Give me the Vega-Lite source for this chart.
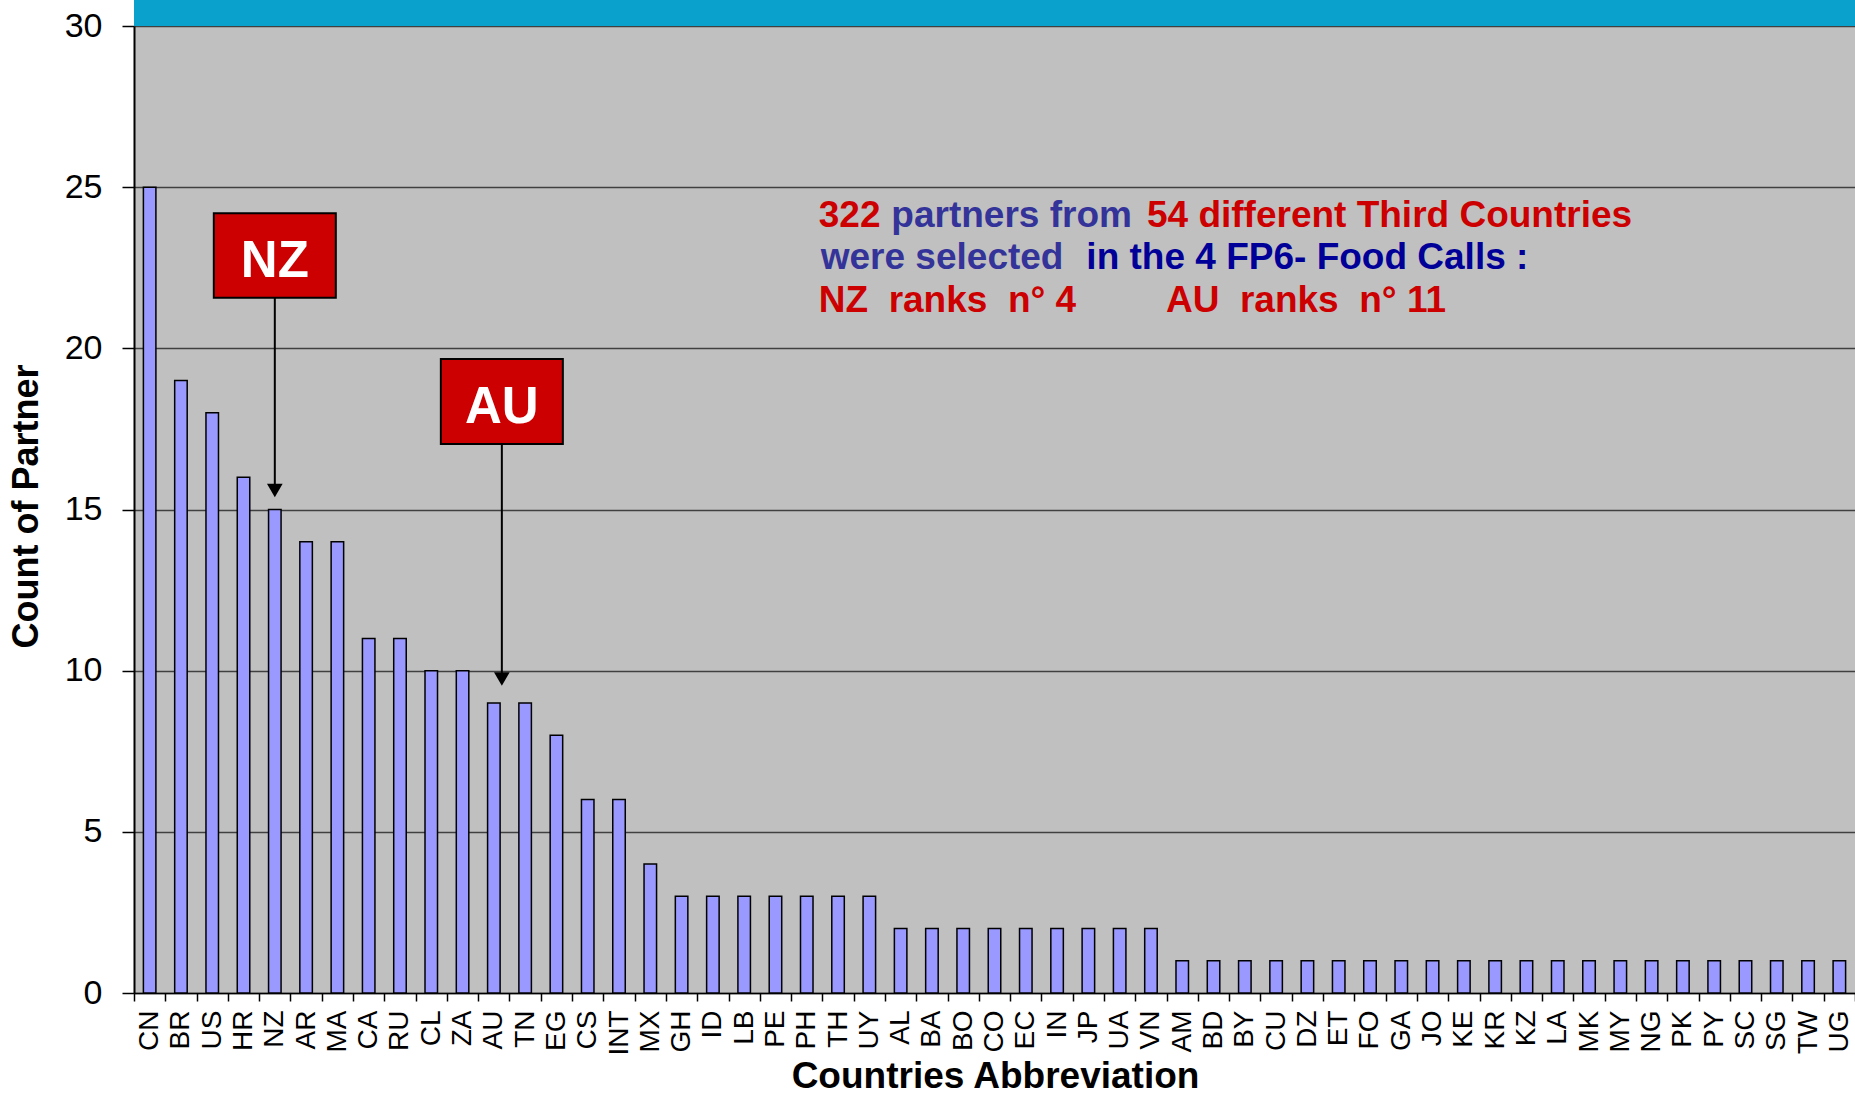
{
  "$schema": "https://vega.github.io/schema/vega-lite/v6.json",
  "autosize": {"type": "none"},
  "padding": {"left": 134, "top": 26, "right": 0, "bottom": 112},
  "width": 1721,
  "height": 967,
  "background": "#ffffff",
  "config": {
    "view": {"fill": "#c0c0c0", "stroke": null},
    "font": "Liberation Sans"
  },
  "layer": [
    {
      "data": {"values": [{"v": 30, "v2": 30.81}]},
      "mark": {"type": "rect", "color": "#0ba1cd"},
      "encoding": {
        "y": {"field": "v", "type": "quantitative"},
        "y2": {"field": "v2"}
      }
    },
    {
      "data": {"values": [
        {"country": "CN", "n": 25}, {"country": "BR", "n": 19}, {"country": "US", "n": 18}, {"country": "HR", "n": 16},
        {"country": "NZ", "n": 15}, {"country": "AR", "n": 14}, {"country": "MA", "n": 14}, {"country": "CA", "n": 11},
        {"country": "RU", "n": 11}, {"country": "CL", "n": 10}, {"country": "ZA", "n": 10}, {"country": "AU", "n": 9},
        {"country": "TN", "n": 9}, {"country": "EG", "n": 8}, {"country": "CS", "n": 6}, {"country": "INT", "n": 6},
        {"country": "MX", "n": 4}, {"country": "GH", "n": 3}, {"country": "ID", "n": 3}, {"country": "LB", "n": 3},
        {"country": "PE", "n": 3}, {"country": "PH", "n": 3}, {"country": "TH", "n": 3}, {"country": "UY", "n": 3},
        {"country": "AL", "n": 2}, {"country": "BA", "n": 2}, {"country": "BO", "n": 2}, {"country": "CO", "n": 2},
        {"country": "EC", "n": 2}, {"country": "IN", "n": 2}, {"country": "JP", "n": 2}, {"country": "UA", "n": 2},
        {"country": "VN", "n": 2}, {"country": "AM", "n": 1}, {"country": "BD", "n": 1}, {"country": "BY", "n": 1},
        {"country": "CU", "n": 1}, {"country": "DZ", "n": 1}, {"country": "ET", "n": 1}, {"country": "FO", "n": 1},
        {"country": "GA", "n": 1}, {"country": "JO", "n": 1}, {"country": "KE", "n": 1}, {"country": "KR", "n": 1},
        {"country": "KZ", "n": 1}, {"country": "LA", "n": 1}, {"country": "MK", "n": 1}, {"country": "MY", "n": 1},
        {"country": "NG", "n": 1}, {"country": "PK", "n": 1}, {"country": "PY", "n": 1}, {"country": "SC", "n": 1},
        {"country": "SG", "n": 1}, {"country": "TW", "n": 1}, {"country": "UG", "n": 1}
      ]},
      "mark": {"type": "bar", "fill": "#9999ff", "stroke": "#000000", "strokeWidth": 1.5, "width": {"band": 0.4}},
      "encoding": {
        "x": {
          "field": "country", "type": "nominal", "sort": null,
          "scale": {
            "domain": ["CN","BR","US","HR","NZ","AR","MA","CA","RU","CL","ZA","AU","TN","EG","CS","INT","MX","GH","ID","LB","PE","PH","TH","UY","AL","BA","BO","CO","EC","IN","JP","UA","VN","AM","BD","BY","CU","DZ","ET","FO","GA","JO","KE","KR","KZ","LA","MK","MY","NG","PK","PY","SC","SG","TW","UG"],
            "paddingInner": 0, "paddingOuter": 0
          },
          "axis": {
            "title": "Countries Abbreviation",
            "titleFontSize": 37, "titleFontWeight": "bold", "titleColor": "#000000",
            "titleX": 861, "titleY": 94, "titleBaseline": "alphabetic", "titleAlign": "center", "titleAnchor": null,
            "labelAngle": 270, "labelFontSize": 28, "labelColor": "#000000", "labelPadding": 9,
            "tickBand": "extent", "tickSize": 8, "tickColor": "#000000", "tickWidth": 1.5,
            "domainColor": "#000000", "domainWidth": 1.5, "grid": false, "labelOverlap": false
          }
        },
        "y": {
          "field": "n", "type": "quantitative",
          "scale": {"domain": [0, 30], "nice": false},
          "axis": {
            "title": "Count of Partner",
            "titleFontSize": 36, "titleFontWeight": "bold", "titleColor": "#000000",
            "titleAngle": 270, "titleX": -97, "titleY": 480, "titleBaseline": "alphabetic", "titleAlign": "center",
            "values": [0, 5, 10, 15, 20, 25, 30],
            "labelFontSize": 34, "labelColor": "#000000", "labelPadding": 20,
            "tickSize": 12, "tickColor": "#000000", "tickWidth": 1.5,
            "domainColor": "#000000", "domainWidth": 2,
            "grid": true, "gridColor": "#404040", "gridWidth": 1.5
          }
        }
      }
    },
    {
      "data": {"values": [{"country": "NZ", "v": 24.19, "v2": 21.57}]},
      "mark": {"type": "bar", "fill": "#cc0000", "stroke": "#000000", "strokeWidth": 2, "width": 122},
      "encoding": {
        "x": {"field": "country", "type": "nominal"},
        "y": {"field": "v", "type": "quantitative"},
        "y2": {"field": "v2"}
      }
    },
    {
      "data": {"values": [{"country": "AU", "v": 19.67, "v2": 17.03}]},
      "mark": {"type": "bar", "fill": "#cc0000", "stroke": "#000000", "strokeWidth": 2, "width": 122, "xOffset": 8},
      "encoding": {
        "x": {"field": "country", "type": "nominal"},
        "y": {"field": "v", "type": "quantitative"},
        "y2": {"field": "v2"}
      }
    },
    {
      "data": {"values": [{"country": "NZ", "v": 22.22, "t": "NZ"}]},
      "mark": {"type": "text", "color": "#ffffff", "fontSize": 51, "fontWeight": "bold", "align": "center", "baseline": "alphabetic"},
      "encoding": {
        "x": {"field": "country", "type": "nominal"},
        "y": {"field": "v", "type": "quantitative"},
        "text": {"field": "t"}
      }
    },
    {
      "data": {"values": [{"country": "AU", "v": 17.69, "t": "AU"}]},
      "mark": {"type": "text", "color": "#ffffff", "fontSize": 51, "fontWeight": "bold", "align": "center", "baseline": "alphabetic", "dx": 8},
      "encoding": {
        "x": {"field": "country", "type": "nominal"},
        "y": {"field": "v", "type": "quantitative"},
        "text": {"field": "t"}
      }
    },
    {
      "data": {"values": [{"country": "NZ", "v": 21.57, "v2": 15.59}]},
      "mark": {"type": "rule", "color": "#000000", "strokeWidth": 2},
      "encoding": {
        "x": {"field": "country", "type": "nominal"},
        "y": {"field": "v", "type": "quantitative"},
        "y2": {"field": "v2"}
      }
    },
    {
      "data": {"values": [{"country": "AU", "v": 17.03, "v2": 9.74}]},
      "mark": {"type": "rule", "color": "#000000", "strokeWidth": 2, "xOffset": 8},
      "encoding": {
        "x": {"field": "country", "type": "nominal"},
        "y": {"field": "v", "type": "quantitative"},
        "y2": {"field": "v2"}
      }
    },
    {
      "data": {"values": [{"country": "NZ", "v": 15.59}]},
      "mark": {"type": "point", "shape": "triangle-down", "size": 246, "filled": true, "color": "#000000", "opacity": 1},
      "encoding": {
        "x": {"field": "country", "type": "nominal"},
        "y": {"field": "v", "type": "quantitative"}
      }
    },
    {
      "data": {"values": [{"country": "AU", "v": 9.74}]},
      "mark": {"type": "point", "shape": "triangle-down", "size": 246, "filled": true, "color": "#000000", "opacity": 1, "xOffset": 8},
      "encoding": {
        "x": {"field": "country", "type": "nominal"},
        "y": {"field": "v", "type": "quantitative"}
      }
    },
    {
      "data": {"values": [
        {"country": "PH", "v": 23.76, "t": "322"},
        {"country": "PH", "v": 21.14, "t": "NZ\u00a0 ranks\u00a0 n° 4"}
      ]},
      "mark": {"type": "text", "color": "#cc0000", "fontSize": 37, "fontWeight": "bold", "align": "left", "baseline": "alphabetic", "dx": 12},
      "encoding": {
        "x": {"field": "country", "type": "nominal"},
        "y": {"field": "v", "type": "quantitative"},
        "text": {"field": "t"}
      }
    },
    {
      "data": {"values": [{"country": "PH", "v": 22.46, "t": "were selected"}]},
      "mark": {"type": "text", "color": "#333399", "fontSize": 37, "fontWeight": "bold", "align": "left", "baseline": "alphabetic", "dx": 14},
      "encoding": {
        "x": {"field": "country", "type": "nominal"},
        "y": {"field": "v", "type": "quantitative"},
        "text": {"field": "t"}
      }
    },
    {
      "data": {"values": [{"country": "UY", "v": 23.76, "t": "partners from"}]},
      "mark": {"type": "text", "color": "#333399", "fontSize": 37, "fontWeight": "bold", "align": "left", "baseline": "alphabetic", "dx": 22},
      "encoding": {
        "x": {"field": "country", "type": "nominal"},
        "y": {"field": "v", "type": "quantitative"},
        "text": {"field": "t"}
      }
    },
    {
      "data": {"values": [{"country": "VN", "v": 23.76, "t": "54 different Third Countries"}]},
      "mark": {"type": "text", "color": "#cc0000", "fontSize": 37, "fontWeight": "bold", "align": "left", "baseline": "alphabetic", "dx": -4},
      "encoding": {
        "x": {"field": "country", "type": "nominal"},
        "y": {"field": "v", "type": "quantitative"},
        "text": {"field": "t"}
      }
    },
    {
      "data": {"values": [{"country": "JP", "v": 22.46, "t": "in the 4 FP6- Food Calls :"}]},
      "mark": {"type": "text", "color": "#000099", "fontSize": 37, "fontWeight": "bold", "align": "left", "baseline": "alphabetic", "dx": -2},
      "encoding": {
        "x": {"field": "country", "type": "nominal"},
        "y": {"field": "v", "type": "quantitative"},
        "text": {"field": "t"}
      }
    },
    {
      "data": {"values": [{"country": "VN", "v": 21.14, "t": "AU\u00a0 ranks\u00a0 n° 11"}]},
      "mark": {"type": "text", "color": "#cc0000", "fontSize": 37, "fontWeight": "bold", "align": "left", "baseline": "alphabetic", "dx": 15},
      "encoding": {
        "x": {"field": "country", "type": "nominal"},
        "y": {"field": "v", "type": "quantitative"},
        "text": {"field": "t"}
      }
    }
  ]
}
